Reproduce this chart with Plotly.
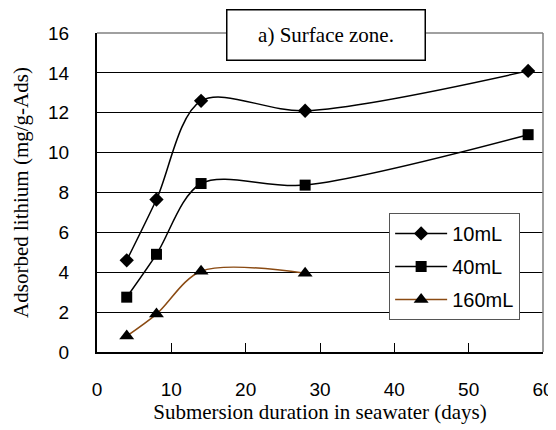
import plotly.graph_objects as go

days_a = [4, 8, 14, 28, 58]
days_b = [4, 8, 14, 28]
li_10 = [4.6, 7.65, 12.6, 12.1, 14.1]
li_40 = [2.75, 4.9, 8.45, 8.37, 10.9]
li_160 = [0.8, 1.9, 4.05, 3.95]
x_ticks = [0, 10, 20, 30, 40, 50, 60]
y_ticks = [0, 2, 4, 6, 8, 10, 12, 14, 16]

fig = go.Figure()
series = [
    ("10mL", days_a, li_10, "black", "diamond", 11),
    ("40mL", days_a, li_40, "black", "square", 11),
    ("160mL", days_b, li_160, "#8a4a12", "triangle-up", 13),
]
for name, xs, ys, col, sym, sz in series:
    fig.add_trace(go.Scatter(
        x=xs, y=ys, name=name, mode="lines+markers", legendgroup=name,
        line=dict(color=col, width=1.5, shape="spline", smoothing=0.9),
        marker=dict(symbol=sym, size=sz, color="black"),
    ))

# page body has an 8px margin, so the figure is offset by 8px
fig.update_layout(
    width=548, height=422,
    margin=dict(l=89, r=13, t=25, b=78),
    paper_bgcolor="white", plot_bgcolor="white",
    showlegend=True,
    legend=dict(
        x=0.655, y=0.436, xanchor="left", yanchor="top",
        bgcolor="white", bordercolor="#555555", borderwidth=1,
        font=dict(family="Liberation Sans", size=20, color="black"),
        tracegroupgap=4, itemwidth=52,
    ),
    xaxis=dict(
        range=[0, 60], tickvals=x_ticks, showgrid=False, zeroline=False,
        showline=True, linecolor="black", linewidth=2, automargin=False,
        ticks="inside", ticklen=9, tickcolor="black", tickwidth=1,
        ticklabelstandoff=19,
        tickfont=dict(family="Liberation Sans", size=19, color="black"),
        title=dict(text="Submersion duration in seawater (days)", standoff=2,
                   font=dict(family="Liberation Serif", size=21, color="black")),
    ),
    yaxis=dict(
        range=[0, 16], tickvals=y_ticks, showgrid=True, gridcolor="black",
        gridwidth=1, zeroline=False, automargin=False,
        showline=True, linecolor="black", linewidth=2,
        ticks="", ticklabelstandoff=22,
        tickfont=dict(family="Liberation Sans", size=19, color="black"),
        title=dict(text="Adsorbed lithium (mg/g-Ads)", standoff=14,
                   font=dict(family="Liberation Serif", size=21, color="black")),
    ),
    shapes=[
        dict(type="line", xref="x domain", yref="y domain", x0=0, x1=1, y0=1, y1=1,
             line=dict(color="#808080", width=1.5), layer="above"),
        dict(type="line", xref="x domain", yref="y domain", x0=1, x1=1, y0=0, y1=1,
             line=dict(color="#808080", width=1.5), layer="above"),
    ],
    annotations=[
        dict(text="a) Surface zone.", xref="paper", yref="paper",
             x=0.513, y=0.994, xanchor="center", yanchor="middle",
             showarrow=False, width=195, height=47,
             bgcolor="white", bordercolor="black", borderwidth=1.5,
             font=dict(family="Liberation Serif", size=21, color="black")),
    ],
)

fig.write_html("out.html")
